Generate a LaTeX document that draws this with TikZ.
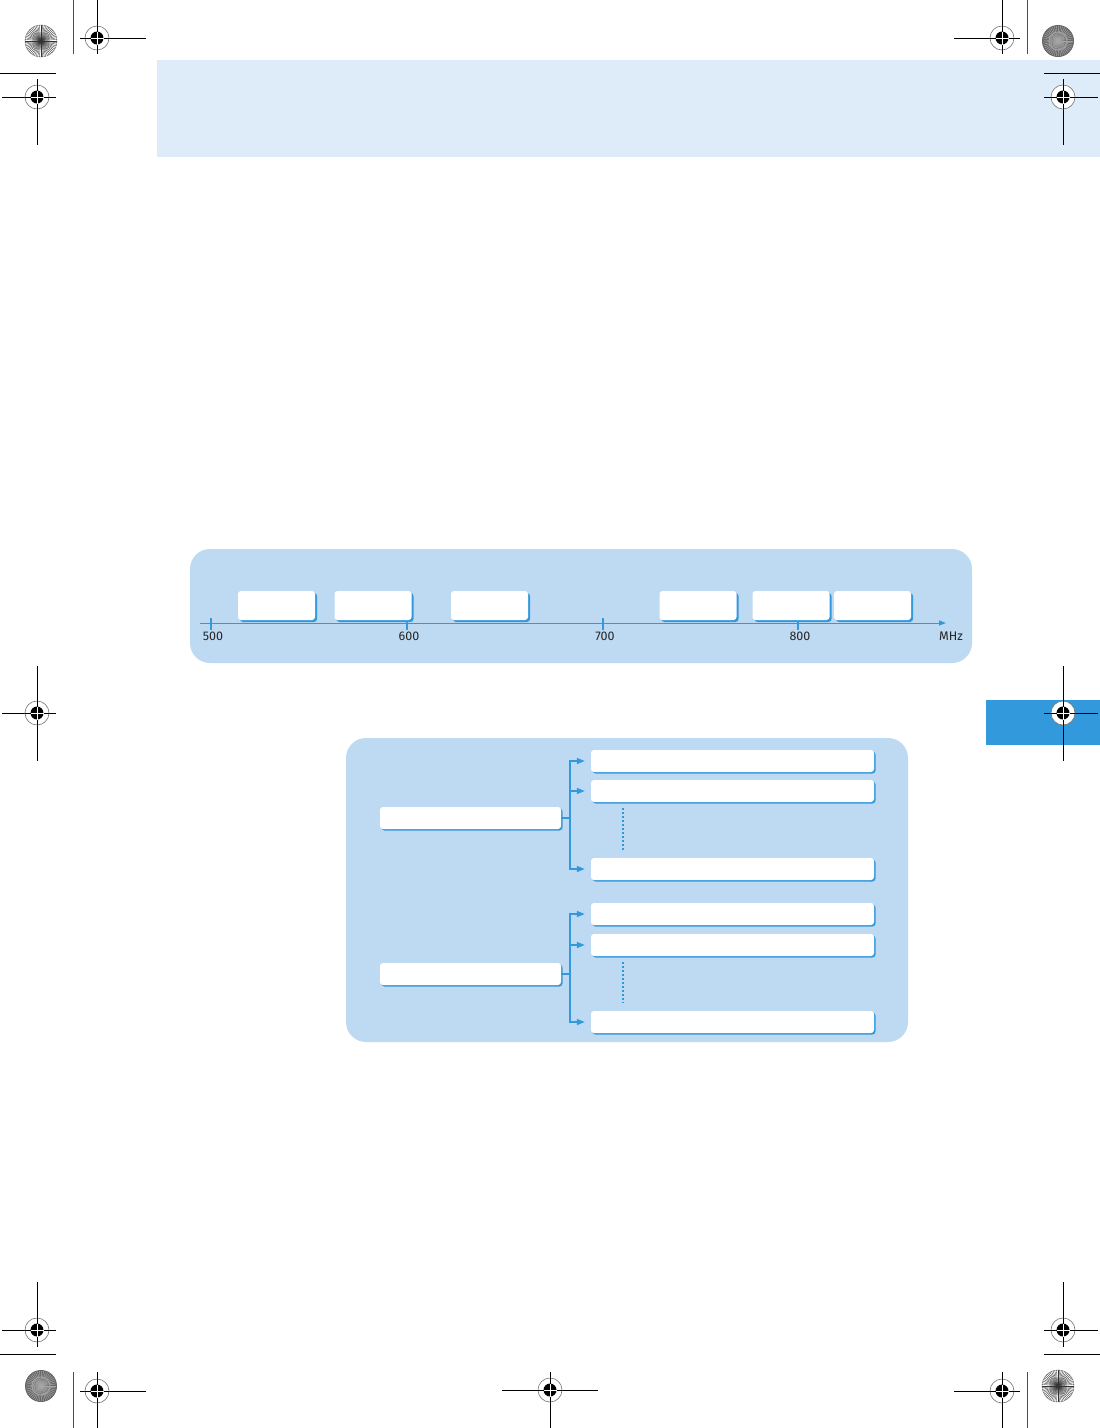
\documentclass[tikz,border=0pt]{standalone}
\usepackage{fontspec}
\setsansfont{Fira Sans}
\usetikzlibrary{arrows.meta,shadows}

\definecolor{bandblue}{HTML}{DEEBF8}
\definecolor{panelblue}{HTML}{BEDAF2}
\definecolor{lineblue}{HTML}{3399DD}

% registration mark: centre x, centre y, horizontal from/to, vertical from/to
\newcommand{\regmark}[6]{%
  \draw[line width=0.9pt] (#3,#2) -- (#4,#2) (#1,#5) -- (#1,#6);
  \draw[black!55, line width=0.6pt, fill=white] (#1,#2) circle (12pt);
  \fill (#1,#2) circle (6.5pt);
  \draw[white, line width=0.8pt] (#1-6.5,#2) -- (#1+6.5,#2) (#1,#2-6.5) -- (#1,#2+6.5);
  \draw[line width=0.9pt] (#1-12,#2) -- (#1-6.5,#2) (#1+6.5,#2) -- (#1+12,#2)
    (#1,#2-12) -- (#1,#2-6.5) (#1,#2+6.5) -- (#1,#2+12);}
\newcommand{\lightburst}[2]{%
  \foreach \a in {0,6,...,354} \draw[black!80, line width=0.35pt] (#1,#2) -- ++(\a:16);
  \draw[black!60, line width=0.4pt] (#1,#2) circle (16pt);}
\newcommand{\darkburst}[2]{%
  \fill[black!60] (#1,#2) circle (16pt);
  \foreach \a in {0,8,...,352} \draw[black!35, line width=0.5pt] (#1,#2) -- ++(\a:15);
  \draw[black!35, line width=0.8pt] (#1,#2) circle (9pt);}

\begin{document}
\begin{tikzpicture}[x=1pt, y=-1pt,
    panel/.style={fill=panelblue, rounded corners=20pt},
    bandbox/.style={rectangle, fill=white, rounded corners=3pt, inner sep=0pt,
      minimum width=77pt, minimum height=29pt,
      drop shadow={shadow xshift=2pt, shadow yshift=-2pt, fill=lineblue, opacity=1}},
    treebox/.style={rectangle, fill=white, rounded corners=3pt, inner sep=0pt,
      minimum height=22pt,
      drop shadow={shadow xshift=1.5pt, shadow yshift=-1.5pt, fill=lineblue, opacity=1}},
    srcbox/.style={treebox, minimum width=181pt},
    outbox/.style={treebox, minimum width=283pt},
    scalelbl/.style={font=\sffamily\fontsize{12.5}{14}\selectfont, text=black!85, inner sep=0pt},
    axis/.style={lineblue, line width=1pt, -{Triangle[length=7pt,width=5pt]}},
    tickline/.style={lineblue, line width=1.1pt},
    branch/.style={lineblue, line width=1.6pt, shorten >=6pt, -{Triangle[length=8pt,width=6pt]}},
    dotline/.style={lineblue, line width=2pt, dash pattern=on 2pt off 2pt},
    markline/.style={line width=0.9pt}
]
    \useasboundingbox (0,0) rectangle (1100,1428);
    \fill[white] (0,0) rectangle (1100,1428);

    % header band and side tab
    \fill[bandblue] (157,60) rectangle (1100,157);
    \fill[lineblue] (986,700) rectangle (1100,745);

    % crop marks
    \draw[markline, black!70] (73,0) -- (73,54) (1027,0) -- (1027,54)
      (73,1372) -- (73,1428) (1027,1372) -- (1027,1428);
    \draw[markline] (0,73) -- (56,73) (1044,73) -- (1100,73)
      (0,1354) -- (56,1354) (1044,1354) -- (1100,1354);
    \regmark{97}{38}{80}{146}{0}{54}
    \regmark{37}{97}{2}{56}{79}{145}
    \regmark{1002}{38}{954}{1020}{0}{54}
    \regmark{1063}{97}{1044}{1098}{79}{145}
    \regmark{37}{713}{2}{56}{666}{761}
    \regmark{1063}{713}{1044}{1098}{666}{761}
    \regmark{37}{1330}{2}{56}{1282}{1347}
    \regmark{97}{1391}{80}{146}{1372}{1428}
    \regmark{550}{1390}{502}{598}{1372}{1428}
    \regmark{1063}{1330}{1044}{1098}{1282}{1347}
    \regmark{1002}{1391}{954}{1020}{1372}{1428}
    \lightburst{41}{41}
    \darkburst{1058}{41}
    \darkburst{41}{1386}
    \lightburst{1058}{1386}

    % frequency scale
    \fill[panel] (190,549) rectangle (972,663);
    \coordinate (axstart) at (200,623);
    \coordinate (axend) at (946,623);
    \draw[axis] (axstart) -- (axend);
    \foreach \f/\x in {500/211,600/407,700/603,800/798} {
        \draw[tickline] (\x,618) -- (\x,630);
        \node[scalelbl] (f\f) at (\x+2,636) {\f};
    }
    \node[scalelbl] (mhz) at (951,636) {MHz};

    \node[bandbox] (band1) at (276.5,605.5) {};
    \node[bandbox] (band2) at (373,605.5) {};
    \node[bandbox] (band3) at (489.5,605.5) {};
    \node[bandbox] (band4) at (698,605.5) {};
    \node[bandbox] (band5) at (791,605.5) {};
    \node[bandbox] (band6) at (872.5,605.5) {};

    % channel tree
    \fill[panel] (346,738) rectangle (908,1042);
    \node[srcbox] (srcA) at (470.5,818) {};
    \node[srcbox] (srcB) at (470.5,974) {};

    \node[outbox] (outA1) at (732.5,761) {};
    \node[outbox] (outA2) at (732.5,791) {};
    \node[outbox] (outA3) at (732.5,869) {};
    \node[outbox] (outB1) at (732.5,914) {};
    \node[outbox] (outB2) at (732.5,945) {};
    \node[outbox] (outB3) at (732.5,1022) {};

    \foreach \n in {1,2,3} {
        \draw[branch] (srcA.east) -- ++(9,0) |- (outA\n.west);
        \draw[branch] (srcB.east) -- ++(9,0) |- (outB\n.west);
    }
    \draw[dotline] ([xshift=32pt,yshift=-6pt]outA2.south west) -- ([xshift=32pt,yshift=8pt]outA3.north west);
    \draw[dotline] ([xshift=32pt,yshift=-6pt]outB2.south west) -- ([xshift=32pt,yshift=8pt]outB3.north west);
\end{tikzpicture}
\end{document}
